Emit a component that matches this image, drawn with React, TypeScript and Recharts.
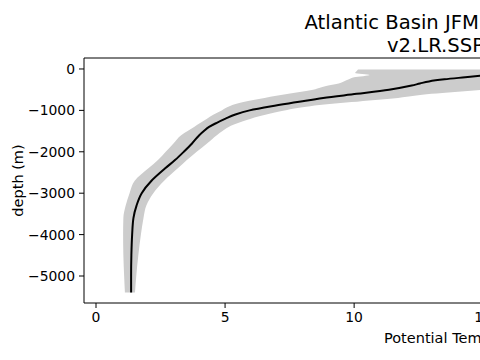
import React from 'react'
import { ComposedChart, Area, Line, XAxis, YAxis, ReferenceLine } from 'recharts'

// depth levels (m) and potential temperature (°C): basin mean, min and max
const depths = [-10, -50, -100, -145, -200, -250, -300, -350, -400, -500, -600, -700, -800, -900, -1000, -1100, -1200, -1300, -1400, -1500, -1600, -1800, -2000, -2200, -2400, -2700, -3000, -3300, -3600, -4000, -4500, -5000, -5400]
const meanTemp = [17.3, 16.8, 16.0, 15.2, 14.3, 13.5, 12.9, 12.55, 12.23, 11.35, 10.1, 8.8, 7.8, 6.8, 5.95, 5.4, 5.02, 4.68, 4.38, 4.18, 4.0, 3.72, 3.4, 3.06, 2.68, 2.15, 1.77, 1.57, 1.45, 1.4, 1.37, 1.36, 1.36]
const minTemp = [10.15, 10.1, 10.04, 10.6, 10.0, 9.8, 9.6, 9.4, 9.0, 8.41, 7.46, 6.53, 5.71, 5.17, 4.87, 4.56, 4.3, 4.05, 3.8, 3.55, 3.3, 3.0, 2.7, 2.4, 2.03, 1.5, 1.3, 1.15, 1.06, 1.05, 1.06, 1.09, 1.12]
const maxTemp = [22, 21.5, 21, 20.5, 20, 19.3, 18.5, 17.7, 16.8, 15.0, 13.0, 11.7, 9.9, 8.3, 7.3, 6.6, 6.0, 5.53, 5.14, 4.9, 4.68, 4.3, 3.9, 3.52, 3.17, 2.64, 2.22, 1.95, 1.84, 1.74, 1.64, 1.56, 1.51]

const xTicks = [0, 5, 10, 15]
const yTicks = [0, -1000, -2000, -3000, -4000, -5000]

const titleLines = ['Atlantic Basin JFM', 'v2.LR.SSP']
const xLabel = 'Potential Temperature'
const yLabel = 'depth (m)'

const rows = depths.map((depth, i) => ({
  depth,
  mean: meanTemp[i],
  range: [minTemp[i], maxTemp[i]],
}))

const font = 'DejaVu Sans'
const tickStyle = { fill: '#000', fontSize: 13.9, fontFamily: font }
const fmt = (v: number) => (v < 0 ? `\u2212${Math.abs(v)}` : `${v}`)
const yTop = 265

export default function App() {
  return (
    <div style={{ position: 'fixed', left: 0, top: 0, width: 480, height: 360, overflow: 'hidden', background: '#fff' }}>
      <ComposedChart
        layout="vertical"
        width={520}
        height={360}
        data={rows}
        margin={{ top: 58, right: 11, bottom: 0, left: 0 }}
      >
        <XAxis
          type="number"
          domain={[-0.465, 16]}
          allowDataOverflow
          ticks={xTicks}
          height={57}
          tickSize={5}
          tickMargin={4}
          stroke="#000"
          tick={tickStyle}
        />
        <YAxis
          type="number"
          dataKey="depth"
          domain={[-5652, yTop]}
          reversed
          ticks={yTicks}
          width={84}
          tickSize={5}
          tickMargin={4}
          stroke="#000"
          tick={tickStyle}
          tickFormatter={fmt}
        />
        <Area
          dataKey="range"
          type="monotone"
          stroke="none"
          fill="#cccccc"
          fillOpacity={1}
          isAnimationActive={false}
        />
        <Line
          dataKey="mean"
          type="monotone"
          stroke="#000"
          strokeWidth={2}
          dot={false}
          isAnimationActive={false}
        />
        <ReferenceLine y={yTop} stroke="#000" strokeWidth={1} />
      </ComposedChart>
      <svg width={480} height={360} style={{ position: 'absolute', left: 0, top: 0, pointerEvents: 'none' }}>
        <text x={304.5} y={28.7} fontSize={19.6} fontFamily={font} fill="#000">{titleLines[0]}</text>
        <text x={387} y={52.2} fontSize={19.6} fontFamily={font} fill="#000">{titleLines[1]}</text>
        <text x={384} y={343} fontSize={14.5} fontFamily={font} fill="#000">{xLabel}</text>
        <text x={23} y={180.5} fontSize={14.5} fontFamily={font} fill="#000" textAnchor="middle" transform="rotate(-90, 23, 180.5)">{yLabel}</text>
      </svg>
    </div>
  )
}
